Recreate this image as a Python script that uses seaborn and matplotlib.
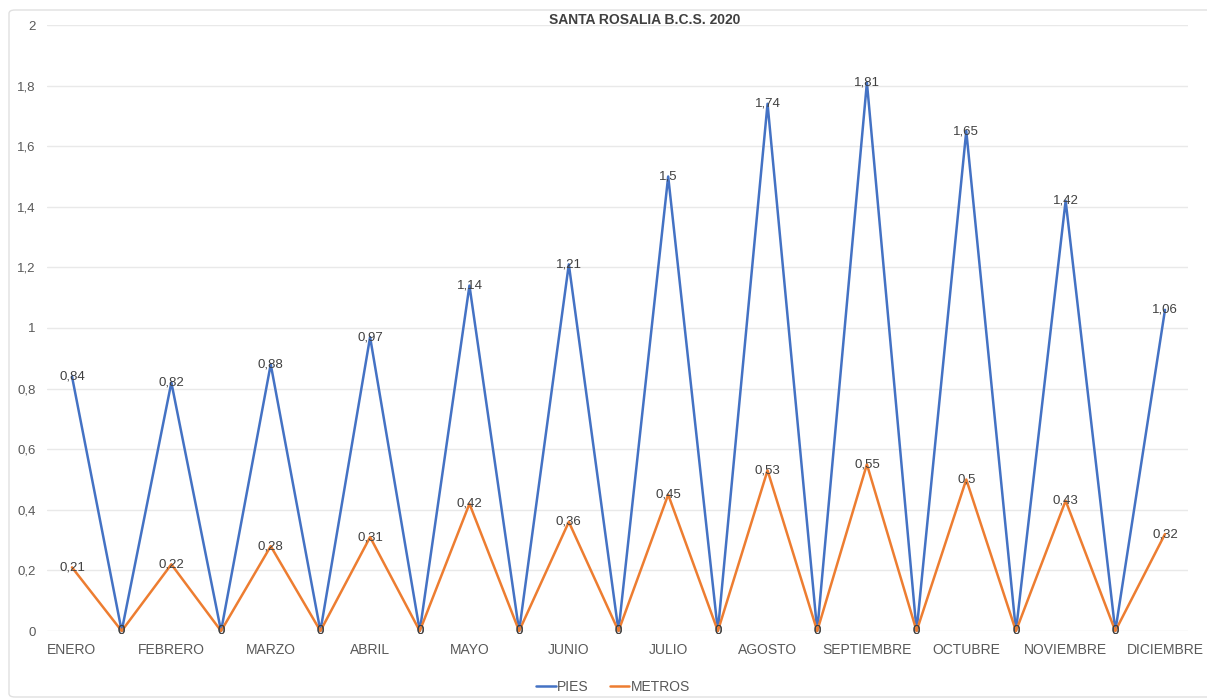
import matplotlib
matplotlib.use("Agg")
import matplotlib.pyplot as plt
from matplotlib.patches import FancyBboxPatch
from matplotlib.lines import Line2D
import seaborn as sns
import pandas as pd

# ---- data ----
months = ["ENERO", "FEBRERO", "MARZO", "ABRIL", "MAYO", "JUNIO", "JULIO",
          "AGOSTO", "SEPTIEMBRE", "OCTUBRE", "NOVIEMBRE", "DICIEMBRE"]
x_labels = ["ENERO", "", "FEBRERO", "", "MARZO", "", "ABRIL", "", "MAYO", "",
            "JUNIO", "", "JULIO", "", "AGOSTO", "", "SEPTIEMBRE", "", "OCTUBRE", "",
            "NOVIEMBRE", "", "DICIEMBRE"]
pies = [0.84, 0, 0.82, 0, 0.88, 0, 0.97, 0, 1.14, 0, 1.21, 0, 1.5, 0,
        1.74, 0, 1.81, 0, 1.65, 0, 1.42, 0, 1.06]
metros = [0.21, 0, 0.22, 0, 0.28, 0, 0.31, 0, 0.42, 0, 0.36, 0, 0.45, 0,
          0.53, 0, 0.55, 0, 0.5, 0, 0.43, 0, 0.32]
y_ticks = [0, 0.2, 0.4, 0.6, 0.8, 1, 1.2, 1.4, 1.6, 1.8, 2]
title = "SANTA ROSALIA B.C.S. 2020"

sns.set_theme(style="white")
plt.rcParams["font.family"] = ["Liberation Sans", "DejaVu Sans"]

W, H = 1207, 698
fig = plt.figure(figsize=(W / 100, H / 100), dpi=100)
ax = fig.add_axes([47 / W, 1 - 631 / H, 1141 / W, 606 / H])

idx = list(range(len(x_labels)))
df = pd.DataFrame({
    "x": idx * 2,
    "y": pies + metros,
    "serie": ["PIES"] * len(idx) + ["METROS"] * len(idx),
})
palette = {"PIES": "#4472C4", "METROS": "#ED7D31"}
sns.lineplot(data=df, x="x", y="y", hue="serie", palette=palette, ax=ax,
             linewidth=1.8, legend=False, sort=False)
for line in ax.lines:
    line.set_clip_on(False)

def fmt(v):
    return ("%g" % v).replace(".", ",")

txt_color = "#404040"
for vals in (pies, metros):
    for i, v in enumerate(vals):
        ax.text(i, v, fmt(v), ha="center", va="center", fontsize=9.5,
                color=txt_color, zorder=5)

px_per_unit = (1165 - 72) / 22.0
ax.set_xlim(-(72 - 47) / px_per_unit, 22 + (1188 - 1165) / px_per_unit)
ax.set_ylim(0, 2)
ax.set_yticks(y_ticks)
ax.set_yticklabels([fmt(t) for t in y_ticks], fontsize=9.5, color="#595959")
ax.set_xticks(idx)
ax.set_xticklabels(x_labels, fontsize=10, color="#595959")
ax.tick_params(axis="y", length=0, pad=8)
ax.tick_params(axis="x", length=0, pad=9)
ax.set_xlabel("")
ax.set_ylabel("")
ax.grid(axis="y", color="#E9E9E9", linewidth=1)
ax.set_axisbelow(True)
for s in ax.spines.values():
    s.set_visible(False)

fig.text(645 / W, 1 - 20 / H, title, ha="center", va="center",
         fontsize=10, fontweight="bold", color="#404040")

handles = [Line2D([], [], color=palette["PIES"], lw=1.8),
           Line2D([], [], color=palette["METROS"], lw=1.8)]
fig.legend(handles, ["PIES", "METROS"], loc="center", ncol=2,
           bbox_to_anchor=(613 / W, 1 - 687 / H), frameon=False,
           fontsize=10, handlelength=1.4, handletextpad=0.1,
           columnspacing=1.5, labelcolor="#595959")

border = FancyBboxPatch((9 / W, 1 / H), 1210 / W, 687 / H,
                        boxstyle="round,pad=0,rounding_size=0.005",
                        transform=fig.transFigure, fill=False,
                        edgecolor="#E0E0E0", linewidth=1)
fig.patches.append(border)

fig.savefig("out.png", dpi=100)
